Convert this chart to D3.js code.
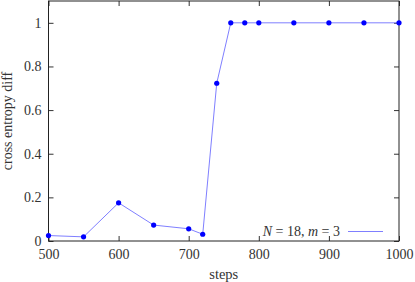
<!DOCTYPE html>
<html>
<head>
<meta charset="utf-8">
<script src="https://cdn.jsdelivr.net/npm/d3@7"></script>
<style>
  body { margin: 0; background: #fff; }
</style>
</head>
<body>
<div id="vis"></div>
<script>
// data
let steps  = [500, 550, 600, 650, 700, 720, 740, 760, 780, 800, 850, 900, 950, 1000];
let values = [0.025, 0.019, 0.175, 0.073, 0.056, 0.031, 0.723, 1, 1, 1, 1, 1, 1, 1];
let xTicks = [500, 600, 700, 800, 900, 1000];
let yTicks = [0, 0.2, 0.4, 0.6, 0.8, 1];

let W = 415, H = 282;
let margin = {top: 1, left: 48.5, right: 16, bottom: 41};
let serif = "'Liberation Serif'";

let svg = d3.select('#vis')
  .append('svg')
    .attr('width', W)
    .attr('height', H);

let x = d3.scaleLinear().domain([500, 1000]).range([margin.left, W - margin.right]);
let y = d3.scaleLinear().domain([0, 1.1]).range([H - margin.bottom, margin.top]);

// inward ticks on all four sides
let tk = 5;
svg.append('g')
  .attr('transform', `translate(0,${y(0)})`)
  .call(d3.axisBottom(x).tickValues(xTicks).tickSize(-tk).tickPadding(8).tickFormat(d3.format('d')))
  .call(g => g.select('.domain').remove());
svg.append('g')
  .attr('transform', `translate(0,${y(1.1)})`)
  .call(d3.axisTop(x).tickValues(xTicks).tickSize(-tk).tickFormat(''))
  .call(g => g.select('.domain').remove());
svg.append('g')
  .attr('transform', `translate(${x(500)},0)`)
  .call(d3.axisLeft(y).tickValues(yTicks).tickSize(-tk).tickPadding(7).tickFormat(d => d === 0 || d === 1 ? d : d3.format('.1f')(d)))
  .call(g => g.select('.domain').remove());
svg.append('g')
  .attr('transform', `translate(${x(1000)},0)`)
  .call(d3.axisRight(y).tickValues(yTicks).tickSize(-tk).tickFormat(''))
  .call(g => g.select('.domain').remove());

svg.selectAll('.tick line').attr('stroke', '#333');
svg.selectAll('.tick text')
  .attr('fill', '#333')
  .style('font-family', serif)
  .style('font-size', '14px');

// frame
svg.append('rect')
  .attr('x', x(500))
  .attr('y', y(1.1))
  .attr('width', x(1000) - x(500))
  .attr('height', y(0) - y(1.1))
  .attr('fill', 'none')
  .attr('stroke', '#222')
  .attr('stroke-width', 1);

// series
let line = d3.line().x((d, i) => x(steps[i])).y(d => y(d));
svg.append('path')
  .datum(values)
  .attr('d', line)
  .attr('fill', 'none')
  .attr('stroke', '#7f7fff')
  .attr('stroke-width', 1);

svg.selectAll('circle')
  .data(values)
  .join('circle')
    .attr('cx', (d, i) => x(steps[i]))
    .attr('cy', d => y(d))
    .attr('r', 2.6)
    .attr('fill', '#0000ff');

// axis labels
svg.append('text')
  .attr('x', (x(500) + x(1000)) / 2)
  .attr('y', 279)
  .attr('text-anchor', 'middle')
  .attr('fill', '#333')
  .style('font-family', serif)
  .style('font-size', '14.5px')
  .text('steps');

svg.append('text')
  .attr('transform', `translate(12,${(y(0) + y(1.1)) / 2}) rotate(-90)`)
  .attr('text-anchor', 'middle')
  .attr('fill', '#333')
  .style('font-family', serif)
  .style('font-size', '14px')
  .text('cross entropy diff');

// legend
let legend = svg.append('text')
  .attr('x', 340)
  .attr('y', 236)
  .attr('text-anchor', 'end')
  .attr('fill', '#333')
  .style('font-family', serif)
  .style('font-size', '14px');
legend.append('tspan').attr('font-style', 'italic').text('N');
legend.append('tspan').text(' = 18, ');
legend.append('tspan').attr('font-style', 'italic').text('m');
legend.append('tspan').text(' = 3');

svg.append('line')
  .attr('x1', 348).attr('x2', 383)
  .attr('y1', 231.5).attr('y2', 231.5)
  .attr('stroke', '#7f7fff')
  .attr('stroke-width', 1);
</script>
</body>
</html>
